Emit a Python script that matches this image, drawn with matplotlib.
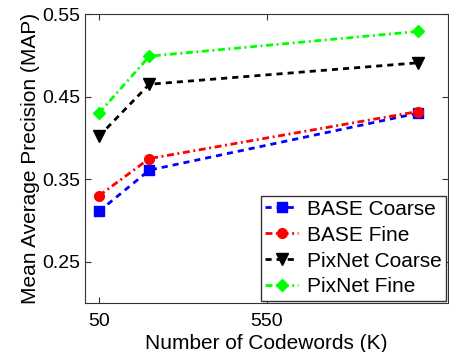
import matplotlib
matplotlib.use("Agg")
import matplotlib.pyplot as plt

plt.rcParams['font.family'] = ['Liberation Sans', 'DejaVu Sans']

codewords = [50, 200, 1000]
base_coarse = [0.311, 0.361, 0.430]
base_fine = [0.330, 0.375, 0.432]
pixnet_coarse = [0.402, 0.465, 0.491]
pixnet_fine = [0.430, 0.499, 0.529]

dash = (2.2, 1.8)
dashdot = (2.5, 1.3, 0.7, 1.3)

fig = plt.figure(figsize=(4.49, 3.52), dpi=100)
ax = fig.add_axes([0.189, 0.139, 0.809, 0.821])

ax.plot(codewords, base_coarse, color='b', dashes=dash, marker='s', ms=7, lw=2, label='BASE Coarse')
ax.plot(codewords, base_fine, color='r', dashes=dashdot, marker='o', ms=7, lw=2, label='BASE Fine')
ax.plot(codewords, pixnet_coarse, color='k', dashes=dash, marker='v', ms=8, lw=2, label='PixNet Coarse')
ax.plot(codewords, pixnet_fine, color=(0, 1, 0), dashes=dashdot, marker='D', ms=6, lw=2, label='PixNet Fine')

ax.set_xlim(8, 1090)
ax.set_ylim(0.2, 0.55)
ax.set_xticks([50, 550])
ax.set_yticks([0.25, 0.35, 0.45, 0.55])
ax.set_yticklabels(['0.25', '0.35', '0.45', '0.55'])
ax.tick_params(direction='in', top=True, right=True, labelsize=14, length=4, color='#333333')
ax.tick_params(axis='x', pad=7)
for s in ax.spines.values():
    s.set_color('#333333')

ax.set_xlabel('Number of Codewords (K)', fontsize=15, labelpad=3)
ax.set_ylabel('Mean Average Precision (MAP)', fontsize=15, labelpad=1)

leg = ax.legend(loc='lower right', bbox_to_anchor=(1.0, 0.0), fontsize=15,
                fancybox=False, framealpha=1, edgecolor='#333333',
                handlelength=1.6, handletextpad=0.4, borderpad=0.2, labelspacing=0.33,
                borderaxespad=0.12)
leg.get_frame().set_linewidth(1.0)

fig.savefig('out.png', dpi=100)
